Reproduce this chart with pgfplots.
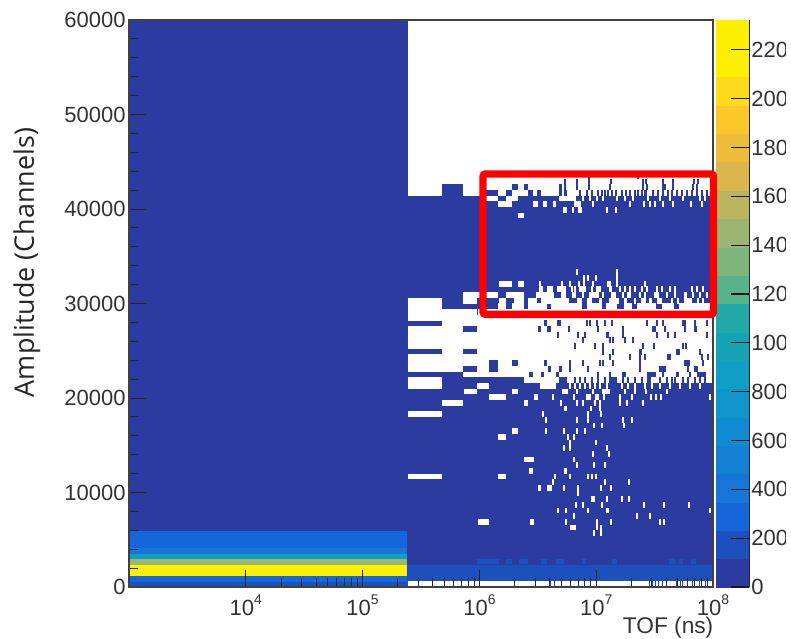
\documentclass[border=0pt]{standalone}
\usepackage{fontspec}
\usepackage{pgfplots}
\usepackage{pgfplotstable}
\pgfplotsset{compat=1.18}
\setmainfont{Liberation Sans}
\newfontfamily\labelfont{Open Sans}
\definecolor{dk}{RGB}{43,59,160}
\definecolor{bone}{RGB}{28,80,189}
\newcommand\tenexp[1]{10\raisebox{0.5em}{\fontsize{10.5}{11}\selectfont #1}}
\pgfplotsset{histmap/.style={
  colormap={hist}{rgb255=(43,59,160) rgb255=(28,80,189) rgb255=(21,102,218) rgb255=(22,117,216) rgb255=(20,128,212) rgb255=(16,138,208) rgb255=(15,149,203) rgb255=(16,158,196) rgb255=(22,164,181) rgb255=(33,169,168) rgb255=(46,174,158) rgb255=(88,178,140) rgb255=(125,181,125) rgb255=(157,181,115) rgb255=(188,181,96) rgb255=(218,182,76) rgb255=(239,188,58) rgb255=(250,200,42) rgb255=(252,219,28) rgb255=(254,240,0) rgb255=(254,240,0)},
  colormap access=piecewise constant,
  point meta min=0,point meta max=2322}}
% a = left edge along the log axis (picture position), w = width, j = amplitude bin (600 channels each)
\pgfplotstableread[row sep=\\]{
a w j\\
575 1.7 78\\
487 12 68\\ 507 12 68\\ 560 17 68\\ 583 1.7 68\\ 590 1.7 68\\ 597 1.7 68\\ 603 1.7 68\\ 617 1.7 68\\ 625 1.7 68\\ 633 1.7 68\\ 648 1.7 68\\ 660 1.7 68\\ 670 1.7 68\\ 683 1.7 68\\ 700 1.7 68\\ 705 1.7 68\\
499 14 67\\ 534 5 67\\ 544 4 67\\ 554 3 67\\ 575 7 67\\ 593 1.7 67\\ 630 1.7 67\\ 644 1.7 67\\ 650 1.7 67\\ 655 1.7 67\\ 663 1.7 67\\ 673 1.7 67\\ 691 1.7 67\\ 702 1.7 67\\
564 4 66\\ 573 2 66\\ 579 4 66\\ 607 2 66\\ 616 2 66\\
519 6 65\\
577 1.7 55\\ 617 1.7 55\\
584 1.7 54\\ 588 1.7 54\\ 596 1.7 54\\ 617 1.7 54\\
500 13 53\\ 519 6 53\\ 540 2 53\\ 562 1.7 53\\ 570 1.7 53\\ 579 1.7 53\\ 584 2 53\\ 593 1.7 53\\ 608 4 53\\ 617 1.7 53\\ 645 1.7 53\\
540 4 52\\ 548 6 52\\ 558 2 52\\ 560 7 52\\ 572 1.7 52\\ 575 1.7 52\\ 580 7 52\\ 592 1.7 52\\ 597 5 52\\ 610 3 52\\ 620 1.7 52\\ 625 1.7 52\\ 630 1.7 52\\ 635 1.7 52\\ 642 1.7 52\\ 647 1.7 52\\ 657 1.7 52\\ 662 1.7 52\\ 670 1.7 52\\ 675 1.7 52\\ 692 1.7 52\\ 697 1.7 52\\ 703 1.7 52\\
464 35 51\\ 507 18 51\\ 537 18 51\\ 562 5 51\\ 573 4 51\\ 583 1.7 51\\ 590 10 51\\ 603 1.7 51\\ 612 5 51\\ 623 1.7 51\\ 628 4 51\\ 640 1.7 51\\ 645 1.7 51\\ 655 5 51\\ 667 1.7 51\\ 675 1.7 51\\ 685 3 51\\ 693 1.7 51\\ 700 1.7 51\\ 707 1.7 51\\
408 35 50\\ 464 14 50\\ 500 7 50\\ 515 10 50\\ 529 9 50\\ 542 18 50\\ 560 10 50\\ 578 5 50\\ 588 5 50\\ 600 3 50\\ 610 10 50\\ 625 3 50\\ 635 1.7 50\\ 642 5 50\\ 650 3 50\\ 658 5 50\\ 672 1.7 50\\ 678 1.7 50\\ 685 8 50\\ 698 1.7 50\\ 703 1.7 50\\
408 35 49\\ 499 8 49\\ 513 12 49\\ 529 19 49\\ 552 31 49\\ 588 15 49\\ 607 11 49\\ 625 8 49\\ 638 19 49\\ 663 12 49\\ 680 33 49\\
408 70 48\\ 479 234 48\\
408 305 47\\
443 270 46\\
408 56 45\\ 478 235 45\\
408 305 44\\
408 305 43\\
408 305 42\\
443 21 41\\ 478 235 41\\
408 305 40\\
408 305 39\\
408 56 38\\ 478 235 38\\
464 249 37\\
408 35 36\\ 525 188 36\\
408 35 35\\ 478 12 35\\ 541 16 35\\ 570 1.7 35\\ 575 1.7 35\\ 580 1.7 35\\ 585 1.7 35\\ 590 1.7 35\\ 595 1.7 35\\ 600 1.7 35\\ 607 1.7 35\\ 622 1.7 35\\ 628 1.7 35\\ 635 1.7 35\\ 645 1.7 35\\ 652 1.7 35\\ 660 1.7 35\\ 670 1.7 35\\ 680 1.7 35\\ 690 1.7 35\\ 700 1.7 35\\
465 13 34\\ 513 6 34\\ 563 6 34\\ 577 1.7 34\\ 593 1.7 34\\ 603 8 34\\ 625 1.7 34\\ 635 1.7 34\\ 646 1.7 34\\ 667 1.7 34\\
490 17 33\\ 535 4 33\\ 553 1.7 33\\ 574 1.7 33\\ 587 5 33\\ 596 4 33\\ 604 1.7 33\\ 620 1.7 33\\ 632 1.7 33\\ 651 1.7 33\\ 656 1.7 33\\ 661 1.7 33\\ 710 1.7 33\\
443 21 32\\ 525 4 32\\ 561 2 32\\ 577 1.7 32\\ 583 1.7 32\\ 595 1.7 32\\ 600 1.7 32\\ 620 1.7 32\\ 627 1.7 32\\ 643 1.7 32\\
565 3 31\\ 591 1.7 31\\ 600 1.7 31\\
408 35 30\\ 543 2 30\\ 588 1.7 30\\ 601 1.7 30\\
546 1.7 29\\ 577 1.7 29\\ 588 1.7 29\\ 623 1.7 29\\ 632 1.7 29\\
594 1.7 28\\ 602 1.7 28\\ 624 1.7 28\\
513 6 27\\ 546 2 27\\ 564 1.7 27\\ 577 1.7 27\\ 585 1.7 27\\
499 8 26\\ 568 1.7 26\\ 574 1.7 26\\
570 1.7 25\\ 596 1.7 25\\
564 1.7 24\\ 570 1.7 24\\ 607 1.7 24\\
593 1.7 23\\ 609 1.7 23\\
525 10 22\\ 574 1.7 22\\
577 1.7 21\\ 594 1.7 21\\ 605 1.7 21\\
530 4 20\\ 565 3 20\\
408 35 19\\ 499 8 19\\ 555 2 19\\ 570 1.7 19\\ 588 1.7 19\\ 592 1.7 19\\ 596 1.7 19\\
553 1.7 18\\ 605 1.7 18\\ 629 1.7 18\\
539 3 17\\ 548 5 17\\ 564 1.7 17\\ 578 2 17\\ 601 1.7 17\\ 611 1.7 17\\
578 1.7 16\\
592 1.7 15\\ 594 1.7 15\\ 607 1.7 15\\ 622 1.7 15\\ 629 1.7 15\\
576 1.7 14\\ 583 1.7 14\\ 602 1.7 14\\ 644 1.7 14\\ 664 1.7 14\\ 689 1.7 14\\
558 2 13\\ 566 2 13\\ 588 1.7 13\\ 607 3 13\\ 710 1.7 13\\
574 1.7 12\\ 637 1.7 12\\ 650 1.7 12\\
479 11 11\\ 531 4 11\\ 566 2 11\\ 597 1.7 11\\ 611 1.7 11\\ 660 1.7 11\\ 664 1.7 11\\
571 6 10\\ 597 1.7 10\\ 601 1.7 10\\
594 1.7 9\\ 601 1.7 9\\
408 305 0\\
}\emptycells
\pgfplotstableread[row sep=\\]{
a w j\\
589 1.7 72\\ 638 1.7 72\\
565 2 71\\ 577 1.7 71\\ 589 1.7 71\\ 611 2 71\\ 643 1.7 71\\ 646 1.7 71\\ 663 1.7 71\\ 673 1.7 71\\ 694 1.7 71\\ 698 1.7 71\\
443 21 70\\ 513 6 70\\ 525 4 70\\ 560 3 70\\ 565 2 70\\ 577 1.7 70\\ 589 1.7 70\\ 610 2 70\\ 643 1.7 70\\ 647 1.7 70\\ 663 1.7 70\\ 665 1.7 70\\ 673 1.7 70\\ 693 1.7 70\\ 697 1.7 70\\
443 21 69\\ 487 12 69\\ 507 6 69\\ 529 5 69\\ 538 4 69\\ 560 3 69\\ 565 3 69\\ 580 1.7 69\\ 587 1.7 69\\ 592 1.7 69\\ 598 1.7 69\\ 602 1.7 69\\ 605 1.7 69\\ 608 1.7 69\\ 612 1.7 69\\ 616 2 69\\ 622 1.7 69\\ 626 1.7 69\\ 630 1.7 69\\ 635 1.7 69\\ 638 1.7 69\\ 642 1.7 69\\ 645 3 69\\ 653 1.7 69\\ 658 1.7 69\\ 663 1.7 69\\ 668 1.7 69\\ 672 1.7 69\\ 677 1.7 69\\ 682 1.7 69\\ 687 1.7 69\\ 692 1.7 69\\ 697 1.7 69\\ 702 1.7 69\\ 707 1.7 69\\
545 3 46\\ 558 4 46\\ 587 1.7 46\\ 590 1.7 46\\ 597 1.7 46\\ 605 1.7 46\\ 612 1.7 46\\ 647 1.7 46\\ 657 1.7 46\\ 663 1.7 46\\ 683 4 46\\ 695 1.7 46\\ 707 1.7 46\\
539 3 45\\ 548 4 45\\ 569 1.7 45\\ 598 1.7 45\\ 623 1.7 45\\ 653 4 45\\ 665 1.7 45\\ 685 1.7 45\\ 695 3 45\\
558 2 44\\ 578 1.7 44\\ 585 1.7 44\\ 607 3 44\\ 623 1.7 44\\ 657 1.7 44\\ 668 1.7 44\\ 675 1.7 44\\ 707 1.7 44\\
583 1.7 43\\ 610 1.7 43\\ 613 1.7 43\\ 625 1.7 43\\ 633 1.7 43\\
575 1.7 42\\ 595 2 42\\ 603 1.7 42\\ 643 1.7 42\\ 654 1.7 42\\ 683 1.7 42\\ 686 1.7 42\\
603 1.7 41\\ 613 1.7 41\\ 640 3 41\\ 677 1.7 41\\ 679 1.7 41\\ 700 1.7 41\\
610 1.7 40\\ 630 1.7 40\\ 640 1.7 40\\ 645 1.7 40\\ 668 1.7 40\\ 670 1.7 40\\ 702 1.7 40\\ 708 1.7 40\\
490 9 39\\ 513 6 39\\ 545 3 39\\ 570 1.7 39\\ 583 1.7 39\\ 600 1.7 39\\ 603 1.7 39\\ 613 1.7 39\\ 640 1.7 39\\ 685 6 39\\ 703 1.7 39\\
490 9 38\\ 549 3 38\\ 560 3 38\\ 570 1.7 38\\ 588 1.7 38\\ 640 1.7 38\\ 660 7 38\\ 688 1.7 38\\ 695 4 38\\
530 4 37\\ 542 3 37\\ 557 3 37\\ 598 1.7 37\\ 610 1.7 37\\ 623 4 37\\ 648 9 37\\ 663 1.7 37\\ 677 3 37\\ 690 1.7 37\\ 698 9 37\\
560 8 36\\ 575 1.7 36\\ 580 1.7 36\\ 585 1.7 36\\ 592 1.7 36\\ 598 1.7 36\\ 605 1.7 36\\ 610 8 36\\ 623 1.7 36\\ 628 1.7 36\\ 635 1.7 36\\ 642 1.7 36\\ 648 4 36\\ 660 1.7 36\\ 667 1.7 36\\ 672 1.7 36\\ 675 1.7 36\\ 683 1.7 36\\ 688 1.7 36\\ 695 1.7 36\\ 700 1.7 36\\ 705 1.7 36\\
551 1 0\\ 555 1 0\\ 650 1 0\\ 653 1 0\\ 656 1 0\\ 659 1 0\\ 663 1 0\\ 667 1 0\\ 677 1 0\\ 681 1 0\\ 683 1 0\\ 693 1 0\\ 700 1 0\\ 706 1 0\\
}\lowcells
\pgfplotstableread[row sep=\\]{
a w j\\
478 22 4\\ 507 6 4\\ 520 9 4\\ 542 6 4\\ 557 8 4\\ 583 4 4\\ 613 5 4\\ 670 6 4\\ 680 4 4\\ 692 5 4\\
}\blueedge
\begin{document}
\begin{tikzpicture}[x=0.75pt,y=0.75pt]
\path[use as bounding box] (-129,-51) rectangle (662,587);
\clip (-129,-51) rectangle (662,587);
\begin{axis}[
  at={(0pt,0pt)},anchor=south west,
  scale only axis,width=438pt,height=425.25pt,
  xmode=log,xmin=1000,xmax=1e8,ymin=0,ymax=60000,
  xtick={1e4,1e5,1e6,1e7,1e8},
  xticklabels={\tenexp{4},\tenexp{5},\tenexp{6},\tenexp{7},\tenexp{8}},
  ytick={0,10000,...,60000},minor y tick num=4,scaled y ticks=false,
  tick pos=left,tick align=inside,
  major tick length=12.75pt,minor tick length=6.5pt,
  tick style={black!85,line width=0.7pt},
  axis line style={black!75,line width=0.8pt},
  axis on top,
  /pgf/number format/assume math mode=true,
  /pgf/number format/set thousands separator={},
  tick label style={font=\fontsize{16.5}{19}\selectfont,black!80},
  y tick label style={xshift=1pt},
  x tick label style={yshift=-2.5pt},
  histmap,
]
\addplot[patch,patch type=rectangle,shader=flat,point meta=explicit] table[row sep=\\,meta=c]{
x y c\\
1000 0 150\\ 240000 0 150\\ 240000 600 150\\ 1000 600 150\\
1000 600 300\\ 240000 600 300\\ 240000 1200 300\\ 1000 1200 300\\
1000 1200 2310\\ 240000 1200 2310\\ 240000 2400 2310\\ 1000 2400 2310\\
1000 2400 1450\\ 240000 2400 1450\\ 240000 3000 1450\\ 1000 3000 1450\\
1000 3000 800\\ 240000 3000 800\\ 240000 3600 800\\ 1000 3600 800\\
1000 3600 400\\ 240000 3600 400\\ 240000 4200 400\\ 1000 4200 400\\
1000 4200 270\\ 240000 4200 270\\ 240000 6000 270\\ 1000 6000 270\\
1000 6000 50\\ 240000 6000 50\\ 240000 60000 50\\ 1000 60000 50\\
240000 600 150\\ 100000000 600 150\\ 100000000 2400 150\\ 240000 2400 150\\
240000 2400 50\\ 100000000 2400 50\\ 100000000 41400 50\\ 240000 41400 50\\
};
\addplot[draw=none,no markers,error bars/.cd,x dir=plus,x explicit,error mark=none,error bar style={line width=4.3pt,color=white}]
  table[x expr={10^(3+(\thisrow{a}-129)/117)},y expr={\thisrow{j}*600+300},
        x error plus expr={10^(3+(\thisrow{a}+\thisrow{w}-129)/117)-10^(3+(\thisrow{a}-129)/117)}]{\emptycells};
\addplot[draw=none,no markers,error bars/.cd,x dir=plus,x explicit,error mark=none,error bar style={line width=4.3pt,color=dk}]
  table[x expr={10^(3+(\thisrow{a}-129)/117)},y expr={\thisrow{j}*600+300},
        x error plus expr={10^(3+(\thisrow{a}+\thisrow{w}-129)/117)-10^(3+(\thisrow{a}-129)/117)}]{\lowcells};
\addplot[draw=none,no markers,error bars/.cd,x dir=plus,x explicit,error mark=none,error bar style={line width=4.3pt,color=bone}]
  table[x expr={10^(3+(\thisrow{a}-129)/117)},y expr={\thisrow{j}*600+300},
        x error plus expr={10^(3+(\thisrow{a}+\thisrow{w}-129)/117)-10^(3+(\thisrow{a}-129)/117)}]{\blueedge};
\end{axis}
\begin{scope}
\clip (-129,-51) rectangle (656,587);
\begin{axis}[
  at={(440.25pt,0pt)},anchor=south west,
  scale only axis,width=25pt,height=425.25pt,
  xmin=0,xmax=1,ymin=0,ymax=2322,
  axis x line=none,axis y line*=right,
  ytick={0,200,...,2200},
  tick align=inside,major tick length=13.5pt,
  tick style={black!90,line width=0.8pt},
  axis line style={black!85,line width=0.8pt,-},
  /pgf/number format/assume math mode=true,
  /pgf/number format/set thousands separator={},
  tick label style={font=\fontsize{16.5}{19}\selectfont,black!80},
  y tick label style={xshift=-2pt},
  histmap,
  axis on top,
]
\addplot[patch,patch type=rectangle,shader=flat,point meta=explicit] table[row sep=\\,meta=c]{
x y c\\
0 0 58\\ 1 0 58\\ 1 116.1 58\\ 0 116.1 58\\
0 116.1 174\\ 1 116.1 174\\ 1 232.2 174\\ 0 232.2 174\\
0 232.2 290\\ 1 232.2 290\\ 1 348.3 290\\ 0 348.3 290\\
0 348.3 406\\ 1 348.3 406\\ 1 464.4 406\\ 0 464.4 406\\
0 464.4 522\\ 1 464.4 522\\ 1 580.5 522\\ 0 580.5 522\\
0 580.5 638\\ 1 580.5 638\\ 1 696.6 638\\ 0 696.6 638\\
0 696.6 755\\ 1 696.6 755\\ 1 812.7 755\\ 0 812.7 755\\
0 812.7 871\\ 1 812.7 871\\ 1 928.8 871\\ 0 928.8 871\\
0 928.8 987\\ 1 928.8 987\\ 1 1044.9 987\\ 0 1044.9 987\\
0 1044.9 1103\\ 1 1044.9 1103\\ 1 1161 1103\\ 0 1161 1103\\
0 1161 1219\\ 1 1161 1219\\ 1 1277.1 1219\\ 0 1277.1 1219\\
0 1277.1 1335\\ 1 1277.1 1335\\ 1 1393.2 1335\\ 0 1393.2 1335\\
0 1393.2 1451\\ 1 1393.2 1451\\ 1 1509.3 1451\\ 0 1509.3 1451\\
0 1509.3 1567\\ 1 1509.3 1567\\ 1 1625.4 1567\\ 0 1625.4 1567\\
0 1625.4 1683\\ 1 1625.4 1683\\ 1 1741.5 1683\\ 0 1741.5 1683\\
0 1741.5 1799\\ 1 1741.5 1799\\ 1 1857.6 1799\\ 0 1857.6 1799\\
0 1857.6 1915\\ 1 1857.6 1915\\ 1 1973.7 1915\\ 0 1973.7 1915\\
0 1973.7 2032\\ 1 1973.7 2032\\ 1 2089.8 2032\\ 0 2089.8 2032\\
0 2089.8 2148\\ 1 2089.8 2148\\ 1 2205.9 2148\\ 0 2205.9 2148\\
0 2205.9 2264\\ 1 2205.9 2264\\ 1 2322 2264\\ 0 2322 2264\\
};
\end{axis}
\end{scope}
\node[rotate=90,font=\labelfont\fontsize{20.2}{24}\selectfont,text=black!85] at (-102,324.5) {Amplitude (Channels)};
\node[anchor=base east,inner sep=0pt,font=\fontsize{17}{19}\selectfont,text=black!80] at (584.5,-46) {TOF (ns)};
\draw[red,line width=5.6pt,rounded corners=2pt] (354,272.7) rectangle (584.5,413);
\end{tikzpicture}
\end{document}
